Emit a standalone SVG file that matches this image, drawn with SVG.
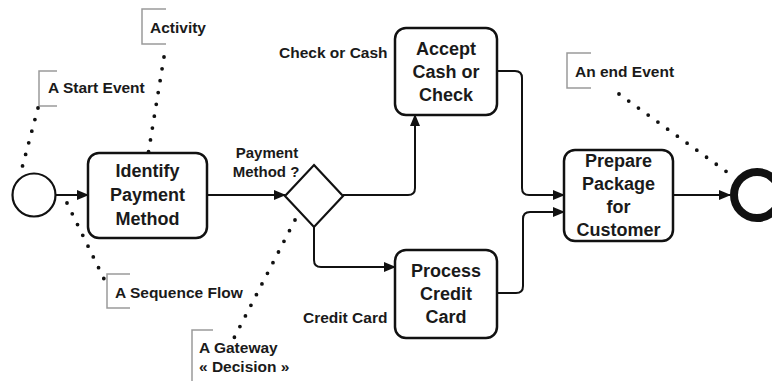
<svg xmlns="http://www.w3.org/2000/svg" width="772" height="381" viewBox="0 0 772 381">
<defs>
<style>
.box{fill:#fff;stroke:#111;stroke-width:2.5}
.t{font-family:"Liberation Sans",Arial,sans-serif;font-weight:bold;fill:#1a1a1a;text-anchor:middle}
.big{font-size:18px}
.sm{font-size:15px}
.lbl{font-family:"Liberation Sans",Arial,sans-serif;font-weight:bold;fill:#1a1a1a;font-size:15.5px}
.flow{fill:none;stroke:#111;stroke-width:2}
.dots{fill:none;stroke:#111;stroke-width:3.8;stroke-linecap:round;stroke-dasharray:0 12}
.br{fill:none;stroke:#9a9a9a;stroke-width:1.5}
</style>
<marker id="arr" markerWidth="12" markerHeight="10" refX="11" refY="5" orient="auto" markerUnits="userSpaceOnUse">
<path d="M0,0 L12,5 L0,10 z" fill="#111"/>
</marker>
</defs>
<rect width="772" height="381" fill="#fff"/>

<g id="connectors">
<path class="flow" d="M56,195 H88" marker-end="url(#arr)"/>
<path class="flow" d="M207,195 H285" marker-end="url(#arr)"/>
<path class="flow" d="M343,195 H408 Q415,195 415,188 V115" marker-end="url(#arr)"/>
<path class="flow" d="M314,226 V260 Q314,267 321,267 H395" marker-end="url(#arr)"/>
<path class="flow" d="M497,71 H515 Q522,71 522,78 V188 Q522,195 529,195 H564" marker-end="url(#arr)"/>
<path class="flow" d="M497,293 H516 Q523,293 523,286 V219 Q523,212 530,212 H564" marker-end="url(#arr)"/>
<path class="flow" d="M673,195 H730" marker-end="url(#arr)"/>
</g>

<g id="start-event"><circle cx="34" cy="195" r="21.5" fill="#fff" stroke="#111" stroke-width="2.2"/></g>

<g id="identify">
<rect class="box" x="88" y="153" width="119" height="85" rx="11"/>
<text class="t big" x="147.5" y="177">Identify</text>
<text class="t big" x="147.5" y="201">Payment</text>
<text class="t big" x="147.5" y="225">Method</text>
</g>

<g id="gateway">
<polygon points="314,165 343,196 314,227 285,196" fill="#fff" stroke="#111" stroke-width="2.2"/>
<text class="t sm" x="267" y="158">Payment</text>
<text class="t sm" x="266" y="177">Method ?</text>
</g>

<g id="accept">
<rect class="box" x="395" y="28" width="102" height="87" rx="11"/>
<text class="t big" x="446" y="55">Accept</text>
<text class="t big" x="446" y="78">Cash or</text>
<text class="t big" x="446" y="101">Check</text>
</g>

<g id="process">
<rect class="box" x="395" y="250" width="102" height="88" rx="11"/>
<text class="t big" x="446" y="277">Process</text>
<text class="t big" x="446" y="300">Credit</text>
<text class="t big" x="446" y="323">Card</text>
</g>

<g id="prepare">
<rect class="box" x="564" y="150" width="109" height="91" rx="11"/>
<text class="t big" x="618.5" y="167">Prepare</text>
<text class="t big" x="618.5" y="190">Package</text>
<text class="t big" x="618.5" y="213">for</text>
<text class="t big" x="618.5" y="236">Customer</text>
</g>

<g id="end-event"><circle cx="757" cy="195" r="23" fill="#fff" stroke="#111" stroke-width="8"/></g>

<g id="label-check-cash"><text class="lbl" x="279" y="58">Check or Cash</text></g>
<g id="label-credit-card"><text class="lbl" x="303" y="323">Credit Card</text></g>

<g id="ann-activity">
<path class="br" d="M166,9 H142 V44 H166"/>
<text class="lbl" x="150" y="33">Activity</text>
<path class="dots" d="M164,57 L148,155"/>
</g>

<g id="ann-start">
<path class="br" d="M57,71 H39 V106 H57"/>
<text class="lbl" x="48" y="93">A Start Event</text>
<path class="dots" d="M38,108 L22,168"/>
</g>

<g id="ann-sequence">
<path class="br" d="M130,274 H107 V308 H130"/>
<text class="lbl" x="115" y="298">A Sequence Flow</text>
<path class="dots" d="M67,203 L106,283"/>
</g>

<g id="ann-gateway">
<path class="br" d="M213,330 H192 V381"/>
<text class="lbl" x="199" y="353">A Gateway</text>
<text class="lbl" x="199" y="372">« Decision »</text>
<path class="dots" d="M295,220 L233,340"/>
</g>

<g id="ann-end">
<path class="br" d="M591,53 H567 V88 H591"/>
<text class="lbl" x="575" y="77">An end Event</text>
<path class="dots" d="M619,94 L727,172"/>
</g>
</svg>
